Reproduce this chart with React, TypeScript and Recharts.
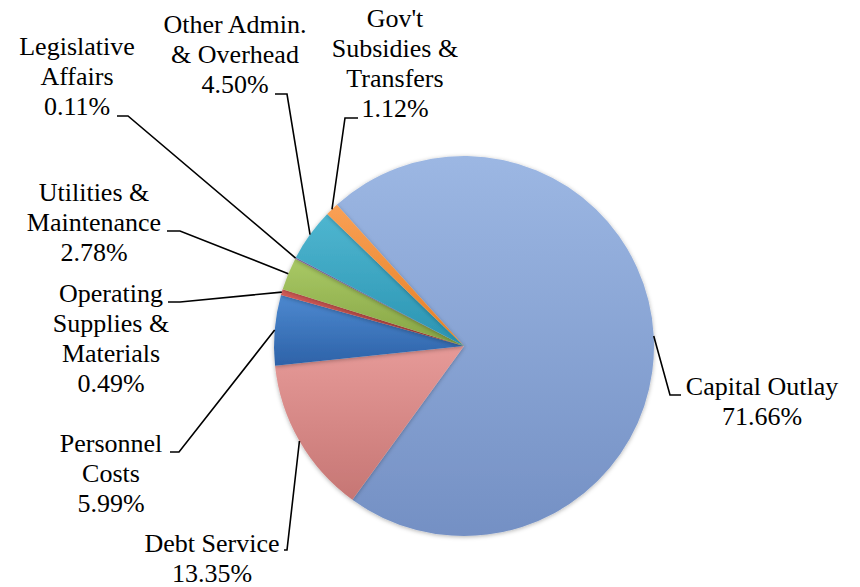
import React from "react";
import { PieChart, Pie, Cell } from "recharts";

const CATEGORIES = [
  "Capital Outlay",
  "Debt Service",
  "Personnel Costs",
  "Operating Supplies & Materials",
  "Utilities & Maintenance",
  "Legislative Affairs",
  "Other Admin. & Overhead",
  "Gov't Subsidies & Transfers",
];

const SHARES = [71.66, 13.35, 5.99, 0.49, 2.78, 0.11, 4.5, 1.12];

const LABEL_LINES = [
  ["Capital Outlay"],
  ["Debt Service"],
  ["Personnel", "Costs"],
  ["Operating", "Supplies &", "Materials"],
  ["Utilities &", "Maintenance"],
  ["Legislative", "Affairs"],
  ["Other Admin.", "& Overhead"],
  ["Gov't", "Subsidies &", "Transfers"],
];

// slice colours: [light top, dark bottom]
const COLORS = [
  ["#9cb7e3", "#7490c4"],
  ["#e69a98", "#c67674"],
  ["#4d89d0", "#2d62a8"],
  ["#d55d59", "#a8403d"],
  ["#a9c965", "#86a444"],
  ["#9076b4", "#6c5190"],
  ["#4fb6d0", "#2a94b2"],
  ["#f9a055", "#e47f25"],
];

// label block placement: text centre / first baseline, leader elbow, leader end
const LABEL_LAYOUT = [
  { tx: 762, ty: 395, ex: 670, ey: 395, hx: 681 },
  { tx: 212, ty: 552, ex: 287, ey: 550, hx: 284 },
  { tx: 111, ty: 452, ex: 179, ey: 452, hx: 170 },
  { tx: 111, ty: 302, ex: 180, ey: 302, hx: 168 },
  { tx: 94, ty: 201, ex: 180, ey: 231, hx: 167 },
  { tx: 77, ty: 55, ex: 128, ey: 116, hx: 117 },
  { tx: 235, ty: 33, ex: 287, ey: 94, hx: 275 },
  { tx: 395, ty: 27, ex: 345, ey: 118, hx: 358 },
];

const data = CATEGORIES.map((name, i) => ({ name, value: SHARES[i] }));

const RAD = Math.PI / 180;
const FONT = "Liberation Serif";

function renderLabel(props: any) {
  const { cx, cy, midAngle, outerRadius, index } = props;
  const lay = LABEL_LAYOUT[index];
  const sx = cx + outerRadius * Math.cos(-midAngle * RAD);
  const sy = cy + outerRadius * Math.sin(-midAngle * RAD);
  const lines = [...LABEL_LINES[index], `${SHARES[index].toFixed(2)}%`];
  return (
    <g key={`lbl-${index}`}>
      <path
        d={`M${sx},${sy}L${lay.ex},${lay.ey}L${lay.hx},${lay.ey}`}
        stroke="#000"
        strokeWidth={1.6}
        fill="none"
      />
      {lines.map((t, j) => (
        <text
          key={j}
          x={lay.tx}
          y={lay.ty + j * 30}
          textAnchor="middle"
          fontFamily={FONT}
          fontSize={26}
          fill="#000"
        >
          {t}
        </text>
      ))}
    </g>
  );
}

export default function App() {
  return (
    <div style={{ position: "absolute", left: 0, top: 0, background: "#fff" }}>
      <PieChart width={860} height={587}>
        <defs>
          {COLORS.map((c, i) => (
            <linearGradient key={i} id={`slice-${i}`} x1="0" y1="0" x2="0" y2="1">
              <stop offset="0%" stopColor={c[0]} />
              <stop offset="100%" stopColor={c[1]} />
            </linearGradient>
          ))}
          <filter id="soft" x="-20%" y="-20%" width="140%" height="140%">
            <feDropShadow dx="0" dy="1" stdDeviation="2" floodColor="#000" floodOpacity="0.3" />
          </filter>
        </defs>
        <Pie
          data={data}
          dataKey="value"
          nameKey="name"
          cx={459}
          cy={341}
          outerRadius={190}
          startAngle={132}
          endAngle={-228}
          stroke="none"
          labelLine={false}
          label={renderLabel}
          isAnimationActive={false}
        >
          {data.map((d, i) => (
            <Cell key={d.name} fill={`url(#slice-${i})`} filter="url(#soft)" />
          ))}
        </Pie>
      </PieChart>
    </div>
  );
}
